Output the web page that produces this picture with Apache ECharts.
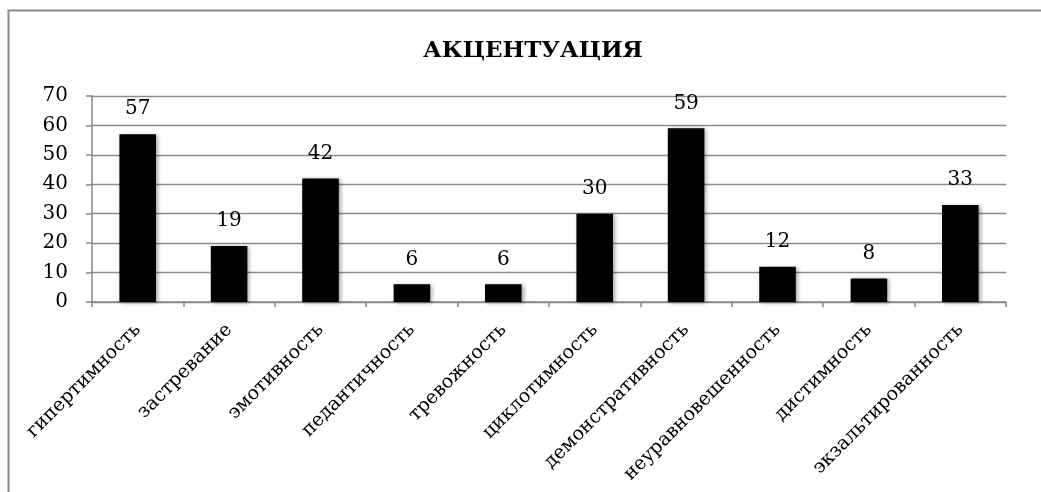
<!DOCTYPE html>
<html>
<head>
<meta charset="utf-8">
<script src="https://cdn.jsdelivr.net/npm/echarts@6/dist/echarts.min.js"></script>
<style>
html,body{margin:0;padding:0;background:#fff;}
#chart{width:1041px;height:492px;}
</style>
</head>
<body>
<div id="chart"></div>
<script>
const titleText = 'АКЦЕНТУАЦИЯ';
const categories = ['гипертимность','застревание','эмотивность','педантичность','тревожность','циклотимность','демонстративность','неуравновешенность','дистимность','экзальтированность'];
const values = [57, 19, 42, 6, 6, 30, 59, 12, 8, 33];
const yMin = 0, yMax = 70, yStep = 10;

const FONT = '"DejaVu Serif", "Liberation Serif", serif';
const chart = echarts.init(document.getElementById('chart'), null, {renderer:'canvas'});
chart.setOption({
  animation: false,
  backgroundColor: '#fff',
  graphic: [{
    type: 'rect', left: 6, top: 8, z: -1,
    shape: {width: 1100, height: 600},
    style: {fill: 'none', stroke: '#8a8a8a', lineWidth: 2}
  }],
  title: {
    text: titleText, left: 418, top: 35,
    textStyle: {fontFamily: FONT, fontWeight: 'bold', fontSize: 23, color: '#000'}
  },
  grid: {left: 92, right: 35, top: 96, bottom: 190, containLabel: false},
  xAxis: {
    type: 'category', data: categories,
    axisLine: {show: true, lineStyle: {color: '#868686', width: 1.5}},
    axisTick: {show: true, alignWithLabel: false, length: 5, lineStyle: {color: '#868686', width: 1.5}},
    axisLabel: {rotate: 45, interval: 0, margin: 25, fontFamily: FONT, fontSize: 19, color: '#000'}
  },
  yAxis: {
    type: 'value', min: yMin, max: yMax, interval: yStep,
    axisLine: {show: true, lineStyle: {color: '#868686', width: 1.5}},
    axisTick: {show: true, length: 6, lineStyle: {color: '#868686', width: 1.5}},
    splitLine: {show: true, lineStyle: {color: '#8c8c8c', width: 1.3}},
    axisLabel: {margin: 24, fontFamily: FONT, fontSize: 20, color: '#000'}
  },
  series: [{
    type: 'bar', data: values, barWidth: '40%',
    itemStyle: {color: '#000', shadowColor: 'rgba(0,0,0,0.35)', shadowBlur: 4, shadowOffsetX: 2, shadowOffsetY: 1},
    label: {show: true, position: 'top', distance: 15, fontFamily: FONT, fontSize: 20, color: '#000'}
  }]
});
</script>
</body>
</html>
